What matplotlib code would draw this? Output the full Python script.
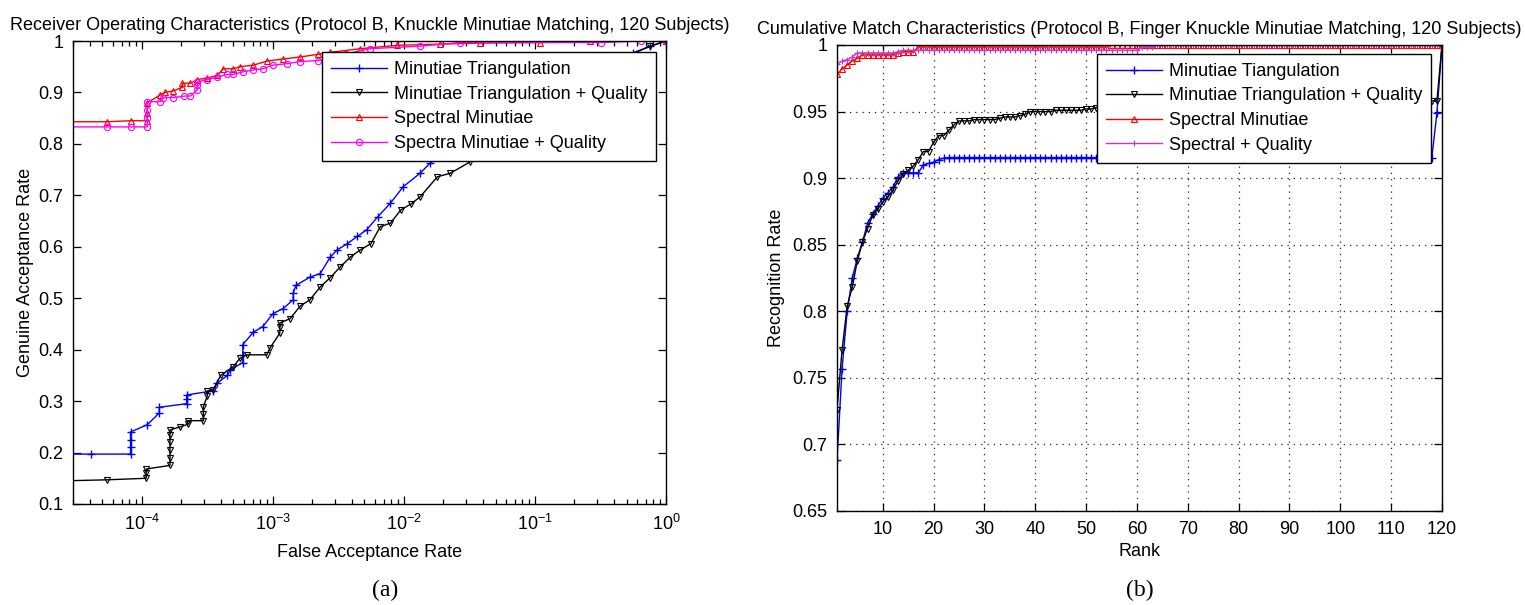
import matplotlib
matplotlib.use('Agg')
import matplotlib.pyplot as plt
from matplotlib.ticker import FixedLocator, LogLocator, NullFormatter, FixedFormatter

plt.rcParams['font.family'] = ['Liberation Sans', 'DejaVu Sans']
plt.rcParams['mathtext.fontset'] = 'custom'
plt.rcParams['mathtext.rm'] = 'Liberation Sans'
plt.rcParams['mathtext.it'] = 'Liberation Sans:italic'
plt.rcParams['mathtext.bf'] = 'Liberation Sans:bold'

# ---------------- ROC data (FAR, GAR) ----------------
roc_labels = ['Minutiae Triangulation', 'Minutiae Triangulation + Quality',
              'Spectral Minutiae', 'Spectra Minutiae + Quality']

far_mt = [2.5e-5, 4.1e-5, 8.2e-5, 8.2e-5, 8.2e-5, 8.2e-5, 1.1e-4, 1.36e-4, 1.36e-4,
          2.2e-4, 2.2e-4, 2.2e-4, 3.5e-4, 3.76e-4, 4.5e-4, 4.7e-4, 5.9e-4, 5.9e-4, 5.9e-4,
          7.1e-4, 8.4e-4, 1.0e-3, 1.2e-3, 1.43e-3, 1.43e-3, 1.5e-3, 1.92e-3, 2.3e-3,
          2.74e-3, 3.1e-3, 3.7e-3, 4.4e-3, 5.2e-3, 6.3e-3, 7.9e-3, 9.9e-3, 0.0133, 0.0159,
          0.027, 0.054, 0.13, 0.32, 0.56, 0.76, 1.0]
gar_mt = [0.197, 0.197, 0.197, 0.21, 0.225, 0.24, 0.254, 0.277, 0.288,
          0.295, 0.305, 0.312, 0.32, 0.335, 0.35, 0.36, 0.375, 0.39, 0.41,
          0.434, 0.445, 0.47, 0.48, 0.497, 0.51, 0.525, 0.541, 0.548,
          0.58, 0.594, 0.606, 0.62, 0.633, 0.658, 0.685, 0.717, 0.743, 0.763,
          0.80, 0.85, 0.91, 0.96, 0.977, 0.99, 1.0]

far_mtq = [2.5e-5, 5.4e-5, 1.08e-4, 1.08e-4, 1.08e-4, 1.64e-4, 1.64e-4, 1.64e-4, 1.64e-4,
           1.64e-4, 1.64e-4, 1.97e-4, 2.24e-4, 2.24e-4, 2.95e-4, 2.95e-4, 2.95e-4, 3.16e-4,
           3.16e-4, 3.5e-4, 4.0e-4, 5.0e-4, 5.6e-4, 6.3e-4, 9.0e-4, 9.5e-4, 1.13e-3, 1.13e-3,
           1.13e-3, 1.35e-3, 1.62e-3, 1.92e-3, 2.3e-3, 2.74e-3, 3.27e-3, 3.9e-3, 4.65e-3,
           5.6e-3, 6.6e-3, 7.9e-3, 9.5e-3, 0.0113, 0.0133, 0.018, 0.0226, 0.032,
           0.054, 0.11, 0.22, 0.45, 0.76, 1.0]
gar_mtq = [0.145, 0.147, 0.15, 0.16, 0.168, 0.175, 0.19, 0.205, 0.22,
           0.235, 0.244, 0.25, 0.255, 0.262, 0.262, 0.275, 0.289, 0.31,
           0.32, 0.322, 0.35, 0.367, 0.383, 0.39, 0.39, 0.403, 0.432, 0.445,
           0.452, 0.46, 0.485, 0.497, 0.522, 0.54, 0.561, 0.58, 0.594,
           0.606, 0.639, 0.646, 0.672, 0.683, 0.697, 0.736, 0.743, 0.765,
           0.80, 0.86, 0.92, 0.965, 0.99, 1.0]

far_sm = [2.5e-5, 5.4e-5, 8.2e-5, 1.1e-4, 1.1e-4, 1.1e-4, 1.38e-4, 1.5e-4, 1.74e-4,
          2.04e-4, 2.04e-4, 2.35e-4, 2.65e-4, 3.16e-4, 3.76e-4, 4.2e-4, 5.0e-4, 5.6e-4,
          7.1e-4, 9.0e-4, 1.2e-3, 1.62e-3, 2.2e-3, 2.74e-3, 4.65e-3, 8.9e-3, 0.019,
          0.038, 0.11, 0.264, 1.0]
gar_sm = [0.843, 0.843, 0.845, 0.845, 0.86, 0.88, 0.895, 0.9, 0.903,
          0.91, 0.918, 0.918, 0.925, 0.928, 0.933, 0.946, 0.946, 0.95,
          0.953, 0.961, 0.965, 0.969, 0.974, 0.978, 0.985, 0.9916, 0.994,
          0.996, 0.997, 1.0, 1.0]

far_smq = [2.5e-5, 5.4e-5, 8.2e-5, 1.1e-4, 1.1e-4, 1.1e-4, 1.1e-4, 1.38e-4, 1.45e-4,
           1.74e-4, 2.1e-4, 2.35e-4, 2.65e-4, 2.65e-4, 2.65e-4, 3.16e-4, 3.76e-4, 4.5e-4,
           5.0e-4, 5.9e-4, 7.1e-4, 8.4e-4, 1.0e-3, 1.29e-3, 1.62e-3, 2.2e-3, 2.6e-3,
           3.6e-3, 5.5e-3, 0.0133, 0.027, 0.32, 0.64, 1.0]
gar_smq = [0.833, 0.833, 0.833, 0.833, 0.85, 0.865, 0.882, 0.882, 0.89,
           0.89, 0.893, 0.893, 0.905, 0.915, 0.92, 0.925, 0.93, 0.935,
           0.935, 0.94, 0.944, 0.946, 0.953, 0.956, 0.96, 0.962, 0.965,
           0.975, 0.985, 0.99, 0.997, 0.997, 1.0, 1.0]

# ---------------- CMC data (rank 1..120) ----------------
cmc_labels = ['Minutiae Tiangulation', 'Minutiae Triangulation + Quality',
              'Spectral Minutiae', 'Spectral + Quality']
ranks = list(range(1, 121))

cmc_mt = [0.688, 0.757, 0.800, 0.825, 0.840, 0.852, 0.866, 0.873, 0.879, 0.885,
          0.889, 0.893, 0.901, 0.904, 0.904, 0.904, 0.904, 0.910, 0.911, 0.912,
          0.914, 0.915, 0.9155, 0.9155, 0.9155, 0.9155, 0.9155, 0.9155, 0.9155, 0.9155,
          0.9155, 0.9155, 0.9155, 0.9155, 0.9155, 0.9155, 0.9155, 0.9155, 0.9155, 0.9155,
          0.9155, 0.9155, 0.9155, 0.9155, 0.9155, 0.9155, 0.9155, 0.9155, 0.9155, 0.9155,
          0.9155, 0.9155, 0.9155, 0.9155, 0.9155, 0.9155, 0.9155, 0.9155, 0.9155, 0.9155,
          0.9155, 0.9155, 0.9155, 0.9155, 0.9155, 0.9155, 0.9155, 0.9155, 0.9155, 0.9155,
          0.9155, 0.9155, 0.9155, 0.9155, 0.9155, 0.9155, 0.9155, 0.9155, 0.9155, 0.9155,
          0.9155, 0.9155, 0.9155, 0.9155, 0.9155, 0.9155, 0.9155, 0.9155, 0.9155, 0.9155,
          0.9155, 0.9155, 0.9155, 0.9155, 0.9155, 0.9155, 0.9155, 0.9155, 0.9155, 0.9155,
          0.9155, 0.9155, 0.9155, 0.9155, 0.9155, 0.9155, 0.9155, 0.9155, 0.9155, 0.9155,
          0.9155, 0.9155, 0.9155, 0.9155, 0.9155, 0.9155, 0.9155, 0.9155, 0.949, 1.000]

cmc_mtq = [0.726, 0.771, 0.804, 0.818, 0.838, 0.852, 0.862, 0.872, 0.877, 0.882,
           0.886, 0.891, 0.898, 0.903, 0.906, 0.909, 0.914, 0.920, 0.920, 0.927,
           0.932, 0.932, 0.936, 0.940, 0.943, 0.943, 0.943, 0.944, 0.944, 0.944,
           0.944, 0.944, 0.945, 0.946, 0.946, 0.946, 0.947, 0.948, 0.950, 0.950,
           0.950, 0.950, 0.950, 0.951, 0.951, 0.951, 0.951, 0.951, 0.951, 0.952,
           0.952, 0.953, 0.953, 0.953, 0.953, 0.953, 0.953, 0.953, 0.953, 0.953,
           0.954, 0.954, 0.954, 0.954, 0.954, 0.954, 0.954, 0.954, 0.954, 0.954,
           0.954, 0.954, 0.954, 0.954, 0.954, 0.955, 0.955, 0.955, 0.955, 0.955,
           0.955, 0.955, 0.955, 0.955, 0.955, 0.955, 0.955, 0.955, 0.955, 0.955,
           0.956, 0.956, 0.956, 0.956, 0.956, 0.956, 0.956, 0.956, 0.956, 0.956,
           0.956, 0.956, 0.956, 0.956, 0.956, 0.957, 0.957, 0.957, 0.957, 0.957,
           0.957, 0.957, 0.957, 0.957, 0.957, 0.958, 0.958, 0.958, 0.958, 1.000]

cmc_sm = [0.978, 0.982, 0.985, 0.988, 0.990, 0.9925, 0.9925, 0.9925, 0.9925, 0.9925,
          0.9925, 0.9925, 0.994, 0.995, 0.995, 0.995, 0.9985, 0.9985, 0.9985, 0.9985,
          0.9985, 0.9985, 0.9985, 0.9985, 0.9985, 0.9985, 0.9985, 0.9985, 0.9985, 0.9985,
          0.9985, 0.9985, 0.9985, 0.9985, 0.9985, 0.9985, 0.9985, 0.9985, 0.9985, 0.9985,
          0.9985, 0.9985, 0.9985, 0.9985, 0.9985, 0.9985, 0.9985, 0.9985, 0.9985, 0.9985,
          0.9985, 0.9985, 0.9985, 0.9985, 1.0, 1.0, 1.0, 1.0, 1.0, 1.0,
          1.0, 1.0, 1.0, 1.0, 1.0, 1.0, 1.0, 1.0, 1.0, 1.0,
          1.0, 1.0, 1.0, 1.0, 1.0, 1.0, 1.0, 1.0, 1.0, 1.0,
          1.0, 1.0, 1.0, 1.0, 1.0, 1.0, 1.0, 1.0, 1.0, 1.0,
          1.0, 1.0, 1.0, 1.0, 1.0, 1.0, 1.0, 1.0, 1.0, 1.0,
          1.0, 1.0, 1.0, 1.0, 1.0, 1.0, 1.0, 1.0, 1.0, 1.0,
          1.0, 1.0, 1.0, 1.0, 1.0, 1.0, 1.0, 1.0, 1.0, 1.0]

cmc_smq = [0.9855, 0.988, 0.989, 0.991, 0.994, 0.994, 0.994, 0.994, 0.994, 0.994,
           0.994, 0.994, 0.995, 0.996, 0.996, 0.996, 0.996, 0.996, 0.996, 0.996,
           0.996, 0.996, 0.996, 0.996, 0.996, 0.996, 0.996, 0.996, 0.996, 0.996,
           0.996, 0.996, 0.996, 0.996, 0.996, 0.996, 0.996, 0.996, 0.996, 0.996,
           0.996, 0.996, 0.996, 0.996, 0.996, 0.996, 0.996, 0.996, 0.996, 0.996,
           0.996, 0.996, 0.996, 0.996, 0.996, 0.996, 0.996, 0.996, 0.996, 0.996,
           0.9985, 0.9985, 0.9985, 1.0, 1.0, 1.0, 1.0, 1.0, 1.0, 1.0,
           1.0, 1.0, 1.0, 1.0, 1.0, 1.0, 1.0, 1.0, 1.0, 1.0,
           1.0, 1.0, 1.0, 1.0, 1.0, 1.0, 1.0, 1.0, 1.0, 1.0,
           1.0, 1.0, 1.0, 1.0, 1.0, 1.0, 1.0, 1.0, 1.0, 1.0,
           1.0, 1.0, 1.0, 1.0, 1.0, 1.0, 1.0, 1.0, 1.0, 1.0,
           1.0, 1.0, 1.0, 1.0, 1.0, 1.0, 1.0, 1.0, 1.0, 1.0]

roc_yticks = [0.1, 0.2, 0.3, 0.4, 0.5, 0.6, 0.7, 0.8, 0.9, 1.0]
roc_yticklabels = ['0.1', '0.2', '0.3', '0.4', '0.5', '0.6', '0.7', '0.8', '0.9', '1']
roc_xticks = [1e-4, 1e-3, 1e-2, 1e-1, 1.0]
roc_xticklabels = [r'$10^{-4}$', r'$10^{-3}$', r'$10^{-2}$', r'$10^{-1}$', r'$10^{0}$']
cmc_xticks = [10, 20, 30, 40, 50, 60, 70, 80, 90, 100, 110, 120]
cmc_yticks = [0.65, 0.7, 0.75, 0.8, 0.85, 0.9, 0.95, 1.0]
cmc_yticklabels = ['0.65', '0.7', '0.75', '0.8', '0.85', '0.9', '0.95', '1']

FS = 13
fig = plt.figure(figsize=(15.25, 6.05), dpi=100)
fig.patch.set_facecolor('white')

leg_kw = dict(loc='upper right', fontsize=FS, fancybox=False, framealpha=1, edgecolor='black',
              handlelength=3.1, handletextpad=0.35, borderpad=0.5, labelspacing=0.42,
              borderaxespad=0)

# ---------------- Left: ROC ----------------
ax1 = fig.add_axes([73/1525, 1-504/605, (666-73)/1525, (504-41)/605])
ax1.set_xscale('log')
ax1.plot(far_mt, gar_mt, color='#0000FF', lw=1, marker='+', ms=6, mew=1, label=roc_labels[0])
ax1.plot(far_mtq, gar_mtq, color='black', lw=1, marker='v', ms=4, mew=0.8, mfc='none', label=roc_labels[1])
ax1.plot(far_sm, gar_sm, color='#FF0000', lw=1, marker='^', ms=4, mew=0.8, mfc='none', label=roc_labels[2])
ax1.plot(far_smq, gar_smq, color='#FF00FF', lw=1, marker='o', ms=4.5, mew=0.8, mfc='none', label=roc_labels[3])
ax1.set_xlim(10**-4.525, 1.0)
ax1.set_ylim(0.1, 1.0)
ax1.xaxis.set_major_locator(FixedLocator(roc_xticks))
ax1.xaxis.set_major_formatter(FixedFormatter(roc_xticklabels))
ax1.xaxis.set_minor_locator(LogLocator(base=10, subs=(2, 3, 4, 5, 6, 7, 8, 9), numticks=20))
ax1.xaxis.set_minor_formatter(NullFormatter())
ax1.yaxis.set_major_locator(FixedLocator(roc_yticks))
ax1.yaxis.set_major_formatter(FixedFormatter(roc_yticklabels))
ax1.set_title('Receiver Operating Characteristics (Protocol B, Knuckle Minutiae Matching, 120 Subjects)',
              fontsize=FS, pad=8)
ax1.set_xlabel('False Acceptance Rate', fontsize=FS, labelpad=7)
ax1.set_ylabel('Genuine Acceptance Rate', fontsize=FS, labelpad=3)
leg1 = ax1.legend(bbox_to_anchor=(0.983, 0.976), **leg_kw)
leg1.get_frame().set_linewidth(1.0)

# ---------------- Right: CMC ----------------
ax2 = fig.add_axes([837/1525, 1-511/605, (1442-837)/1525, (511-45)/605])
ax2.plot(ranks, cmc_mt, color='#0000FF', lw=1, marker='+', ms=6, mew=1, label=cmc_labels[0])
ax2.plot(ranks, cmc_mtq, color='black', lw=1, marker='v', ms=4, mew=0.8, mfc='none', label=cmc_labels[1])
ax2.plot(ranks, cmc_sm, color='#FF0000', lw=1, marker='^', ms=4, mew=0.8, mfc='none', label=cmc_labels[2])
ax2.plot(ranks, cmc_smq, color='#CC33CC', lw=1, marker='+', ms=4, mew=0.8, label=cmc_labels[3])
ax2.set_xlim(1, 120)
ax2.set_ylim(0.65, 1.0)
ax2.xaxis.set_major_locator(FixedLocator(cmc_xticks))
ax2.yaxis.set_major_locator(FixedLocator(cmc_yticks))
ax2.yaxis.set_major_formatter(FixedFormatter(cmc_yticklabels))
ax2.grid(True, color='#222222', linestyle=(0, (1, 4)), linewidth=0.9)
ax2.set_axisbelow(True)
ax2.set_title('Cumulative Match Characteristics (Protocol B, Finger Knuckle Minutiae Matching, 120 Subjects)',
              fontsize=FS, pad=8)
ax2.set_xlabel('Rank', fontsize=FS, labelpad=4)
ax2.set_ylabel('Recognition Rate', fontsize=FS, labelpad=5)
leg2 = ax2.legend(bbox_to_anchor=(0.982, 0.981), **leg_kw)
leg2.get_frame().set_linewidth(1.0)

for ax in (ax1, ax2):
    for sp in ax.spines.values():
        sp.set_linewidth(1.0)
    ax.tick_params(which='both', direction='in', top=True, right=True, labelsize=FS, width=0.9)
    ax.tick_params(which='major', length=6, pad=7)
    ax.tick_params(which='minor', length=3.5)

fig.text(385/1525, 1-590/605, '(a)', family='Liberation Serif', fontsize=17, ha='center', va='center')
fig.text(1140/1525, 1-590/605, '(b)', family='Liberation Serif', fontsize=17, ha='center', va='center')

fig.savefig('out.png', dpi=100, facecolor='white')
